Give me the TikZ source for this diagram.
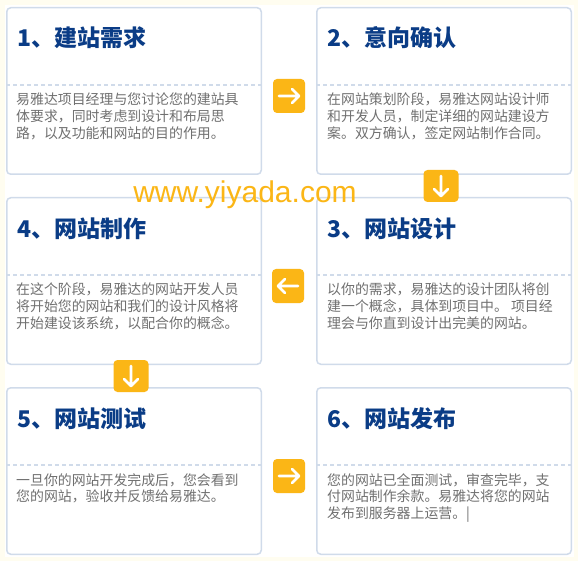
\documentclass[tikz,border=0pt]{standalone}
\usepackage{fontspec}
\usepackage{xcolor}
\usepackage{tikz}
\usetikzlibrary{calc,positioning}
\newfontfamily\cjk{Noto Sans CJK SC}
\setsansfont{Liberation Sans}
\definecolor{bgcream}{HTML}{FFFDF0}
\definecolor{boxline}{HTML}{D0DBEA}
\definecolor{titleblue}{HTML}{0A3C86}
\definecolor{bodygray}{HTML}{707070}
\definecolor{badgeorange}{HTML}{FBB616}

\begin{document}
\begin{tikzpicture}[x=1pt,y=-1pt,
  stagebox/.style={draw=boxline,line width=1.5pt,fill=white,rounded corners=4pt,
    minimum width=254.5pt,minimum height=166.5pt,inner sep=0pt},
  stagetitle/.style={anchor=west,inner sep=0pt,text=titleblue,
    font=\cjk\bfseries\fontsize{23}{26}\selectfont},
  stagetext/.style={anchor=north west,inner sep=0pt,align=left,text=bodygray,
    font=\cjk\fontsize{13.9}{16.7}\selectfont},
  divider/.style={draw=boxline,line width=1.2pt,dash pattern=on 4pt off 3pt},
  badge/.style={fill=badgeorange,rounded corners=4pt,inner sep=0pt},
  arrowglyph/.style={draw=white,line width=2.8pt,line cap=round,line join=round}]
\useasboundingbox (0,0) rectangle (578,561);
\fill[bgcream] (0,0) rectangle (578,561);
\fill[white] (5,5) rectangle (574,557);

% the six stages
\node[stagebox] (s1) at (134,91) {};
\node[stagebox] (s2) at (444,91) {};
\node[stagebox] (s4) at (134,281) {};
\node[stagebox] (s3) at (444,281) {};
\node[stagebox] (s5) at (134,471) {};
\node[stagebox] (s6) at (444,471) {};

\foreach \s in {s1,s2,s3,s4,s5,s6}
  \draw[divider] ([yshift=-78pt]\s.north west) -- ([yshift=-78pt]\s.north east);

\node[stagetitle] (t1) at ([xshift=11pt,yshift=-31pt]s1.north west) {1、建站需求};
\node[stagetitle] (t2) at ([xshift=11pt,yshift=-31pt]s2.north west) {2、意向确认};
\node[stagetitle] (t3) at ([xshift=11pt,yshift=-32pt]s3.north west) {3、网站设计};
\node[stagetitle] (t4) at ([xshift=11pt,yshift=-32pt]s4.north west) {4、网站制作};
\node[stagetitle] (t5) at ([xshift=11pt,yshift=-32pt]s5.north west) {5、网站测试};
\node[stagetitle] (t6) at ([xshift=11pt,yshift=-32pt]s6.north west) {6、网站发布};

\node[stagetext] (b1) at ([xshift=10pt,yshift=-86pt]s1.north west)
  {易雅达项目经理与您讨论您的建站具\\体要求，同时考虑到设计和布局思\\路，以及功能和网站的目的作用。};
\node[stagetext] (b2) at ([xshift=11pt,yshift=-86pt]s2.north west)
  {在网站策划阶段，易雅达网站设计师\\和开发人员，制定详细的网站建设方\\案。双方确认，签定网站制作合同。};
\node[stagetext] (b3) at ([xshift=11pt,yshift=-86pt]s3.north west)
  {以你的需求，易雅达的设计团队将创\\建一个概念，具体到项目中。 项目经\\理会与你直到设计出完美的网站。};
\node[stagetext] (b4) at ([xshift=10pt,yshift=-86pt]s4.north west)
  {在这个阶段，易雅达的网站开发人员\\将开始您的网站和我们的设计风格将\\开始建设该系统，以配合你的概念。};
\node[stagetext] (b5) at ([xshift=10pt,yshift=-86pt]s5.north west)
  {一旦你的网站开发完成后，您会看到\\您的网站，验收并反馈给易雅达。};
\node[stagetext] (b6) at ([xshift=11pt,yshift=-86pt]s6.north west)
  {您的网站已全面测试，审查完毕，支\\付网站制作余款。易雅达将您的网站\\发布到服务器上运营。|};

% watermark
\node[inner sep=0pt,text=badgeorange,font=\sffamily\fontsize{30}{30}\selectfont]
  (url) at (245,195) {www.yiyada.com};

% orange arrow badges
\node[badge,minimum width=32pt,minimum height=34pt] (a12)
  at ([yshift=-5pt]$(s1.east)!0.5!(s2.west)$) {};
\node[badge,minimum width=35pt,minimum height=32pt] (a23)
  at ([xshift=-3pt]$(s2.south)!0.5!(s3.north)$) {};
\node[badge,minimum width=32pt,minimum height=34pt] (a34)
  at ([xshift=-1pt,yshift=-5pt]$(s3.west)!0.5!(s4.east)$) {};
\node[badge,minimum width=35pt,minimum height=32pt] (a45)
  at ([xshift=-3pt]$(s4.south)!0.5!(s5.north)$) {};
\node[badge,minimum width=32pt,minimum height=34pt] (a56)
  at ([yshift=-5pt]$(s5.east)!0.5!(s6.west)$) {};

\draw[arrowglyph,shift={(a12.center)}] (-10pt,0pt) -- (10pt,0pt) (3pt,7pt) -- (10pt,0pt) -- (3pt,-7pt);
\draw[arrowglyph,shift={(a23.center)},rotate=-90] (-10pt,0pt) -- (10pt,0pt) (3pt,7pt) -- (10pt,0pt) -- (3pt,-7pt);
\draw[arrowglyph,shift={(a34.center)},rotate=180] (-10pt,0pt) -- (10pt,0pt) (3pt,7pt) -- (10pt,0pt) -- (3pt,-7pt);
\draw[arrowglyph,shift={(a45.center)},rotate=-90] (-10pt,0pt) -- (10pt,0pt) (3pt,7pt) -- (10pt,0pt) -- (3pt,-7pt);
\draw[arrowglyph,shift={(a56.center)}] (-10pt,0pt) -- (10pt,0pt) (3pt,7pt) -- (10pt,0pt) -- (3pt,-7pt);
\end{tikzpicture}
\end{document}
